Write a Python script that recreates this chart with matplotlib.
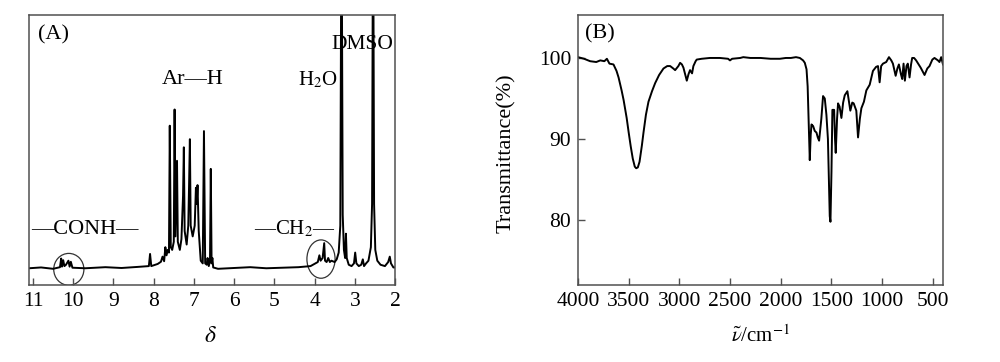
"""1H NMR (A) and FTIR (B) spectra, two panels side by side."""

import matplotlib
matplotlib.use("Agg")
import matplotlib.pyplot as plt
from matplotlib.patches import Ellipse

# ---- (A) 1H NMR, chemical shift (ppm) vs relative intensity (% of axes height)
nmr_shift = [
    11.10, 10.80, 10.50, 10.33, 10.30, 10.28, 10.25, 10.22, 10.18, 10.12,
    10.09, 10.06, 10.02, 9.70, 9.20, 8.80, 8.40, 8.12, 8.09, 8.06,
    7.90, 7.82, 7.78, 7.74, 7.71, 7.68, 7.65, 7.62, 7.60, 7.575,
    7.54, 7.50, 7.48, 7.46, 7.42, 7.40, 7.35, 7.31, 7.27, 7.25,
    7.23, 7.18, 7.14, 7.12, 7.10, 7.08, 7.03, 6.98, 6.95, 6.93,
    6.91, 6.88, 6.83, 6.78, 6.75, 6.72, 6.68, 6.66, 6.63, 6.60,
    6.58, 6.56, 6.54, 6.52, 6.40, 6.00, 5.60, 5.20, 4.80, 4.40,
    4.10, 3.98, 3.92, 3.88, 3.85, 3.80, 3.76, 3.74, 3.70, 3.66,
    3.62, 3.58, 3.50, 3.45, 3.40, 3.36, 3.33, 3.30, 3.27, 3.24,
    3.22, 3.20, 3.15, 3.08, 3.02, 2.99, 2.96, 2.90, 2.84, 2.80,
    2.77, 2.72, 2.66, 2.60, 2.57, 2.545, 2.52, 2.49, 2.44, 2.36,
    2.25, 2.17, 2.13, 2.10, 2.04, 2.00,
]
nmr_intensity = [
    6.2, 6.5, 6.0, 6.6, 9.8, 6.8, 9.2, 7.0, 7.5, 9.0,
    6.8, 8.6, 6.4, 6.2, 6.6, 6.3, 6.7, 7.0, 11.5, 7.0,
    7.8, 8.6, 10.5, 8.8, 14.0, 11.0, 13.0, 12.0, 59.0, 14.0,
    13.0, 16.0, 65.0, 18.0, 46.0, 16.0, 13.0, 17.0, 33.0, 51.0,
    20.0, 15.0, 22.0, 37.0, 54.0, 22.0, 18.0, 22.0, 36.0, 30.0,
    37.0, 20.0, 9.0, 8.0, 57.0, 8.0, 7.5, 10.0, 7.0, 9.0,
    43.0, 8.0, 10.0, 6.5, 6.0, 6.3, 6.6, 6.2, 6.4, 6.6,
    7.0, 8.0, 8.5, 11.0, 9.0, 10.0, 15.5, 9.0, 8.5, 10.0,
    8.5, 9.0, 8.5, 9.5, 12.0, 22.0, 150.0, 26.0, 13.0, 10.0,
    19.0, 10.0, 7.5, 7.0, 8.0, 12.0, 8.0, 7.0, 7.5, 9.5,
    7.0, 8.0, 9.0, 14.0, 30.0, 150.0, 30.0, 13.0, 9.0, 7.5,
    7.0, 8.5, 10.5, 8.0, 6.5, 6.5,
]
nmr_ticks = [11, 10, 9, 8, 7, 6, 5, 4, 3, 2]

# ---- (B) FTIR, wavenumber (cm-1) vs transmittance (%)
ir_wavenumber = [
    4000, 3940, 3880, 3820, 3780, 3740, 3715, 3690, 3650, 3620,
    3600, 3570, 3550, 3520, 3500, 3480, 3460, 3440, 3426, 3410,
    3393, 3370, 3354, 3330, 3305, 3270, 3239, 3200, 3157, 3120,
    3091, 3060, 3042, 3010, 2993, 2975, 2960, 2940, 2927, 2910,
    2895, 2875, 2862, 2840, 2829, 2780, 2700, 2600, 2520, 2501,
    2480, 2400, 2370, 2300, 2200, 2100, 2009, 1950, 1900, 1850,
    1812, 1780, 1763, 1746, 1735, 1725, 1714, 1705, 1697, 1681,
    1665, 1648, 1635, 1622, 1600, 1583, 1566, 1550, 1535, 1525,
    1517, 1510, 1500, 1491, 1474, 1465, 1458, 1445, 1435, 1420,
    1402, 1385, 1369, 1343, 1330, 1314, 1295, 1281, 1255, 1238,
    1220, 1205, 1180, 1156, 1123, 1091, 1060, 1041, 1025, 1010,
    992, 960, 933, 910, 894, 867, 850, 835, 815, 802,
    789, 776, 760, 747, 730, 715, 704, 685, 665, 620,
    582, 555, 533, 505, 484, 450, 435, 418, 400,
]
ir_transmittance = [
    100.1, 99.9, 99.6, 99.5, 99.7, 99.6, 99.9, 99.3, 99.2, 98.4,
    97.6, 96.0, 94.8, 92.6, 90.8, 89.1, 87.6, 86.6, 86.4, 86.5,
    87.2, 89.2, 90.8, 93.0, 94.6, 95.9, 96.9, 97.9, 98.7, 99.0,
    99.0, 98.7, 98.5, 99.0, 99.4, 99.2, 98.8, 97.8, 97.2, 98.0,
    98.5, 98.1, 99.0, 99.6, 99.8, 99.9, 100.0, 100.0, 99.9, 99.7,
    99.9, 100.0, 100.1, 100.0, 100.0, 99.9, 99.9, 100.0, 100.0, 100.1,
    100.0, 99.7, 99.4, 98.6, 96.5, 92.0, 87.4, 90.5, 91.8, 91.6,
    91.0, 90.8, 90.2, 89.8, 92.5, 95.3, 95.0, 93.0, 90.0, 85.0,
    80.5, 79.8, 86.0, 93.6, 93.6, 90.0, 88.3, 92.5, 94.4, 94.0,
    92.6, 94.5, 95.4, 95.9, 94.8, 93.5, 94.5, 94.4, 93.5, 90.2,
    92.5, 93.8, 94.6, 96.0, 96.7, 98.4, 98.9, 99.0, 97.0, 99.0,
    99.3, 99.5, 100.1, 99.7, 99.3, 97.8, 98.7, 99.2, 98.0, 97.4,
    99.3, 97.2, 99.0, 99.3, 97.6, 99.2, 100.0, 100.0, 99.7, 98.8,
    97.9, 98.7, 99.0, 99.8, 100.0, 99.7, 99.5, 100.1, 99.2,
]
ir_xticks = [4000, 3500, 3000, 2500, 2000, 1500, 1000, 500]
ir_yticks = [80, 90, 100]

assert len(nmr_shift) == len(nmr_intensity)
assert len(ir_wavenumber) == len(ir_transmittance)

plt.rcParams["font.family"] = ["Liberation Serif", "DejaVu Serif"]
plt.rcParams["mathtext.fontset"] = "stix"

FRAME = "#505050"
fig = plt.figure(figsize=(10, 3.62), dpi=100)
ax1 = fig.add_axes([0.029, 0.2127, 0.366, 0.7459])
ax2 = fig.add_axes([0.578, 0.2127, 0.365, 0.7459])

# ---- panel A
ax1.plot(nmr_shift, nmr_intensity, color="black", lw=1.4)
ax1.set_xlim(11.1, 2.0)
ax1.set_ylim(0, 100)
ax1.set_xticks(nmr_ticks)
ax1.set_yticks([])
ax1.tick_params(axis="x", direction="in", length=5, width=1, color=FRAME,
                labelsize=15.5, pad=5)
ax1.set_xlabel(r"$\delta$", fontsize=17)
ax1.xaxis.set_label_coords(0.495, -0.15)

ax1.text(0.025, 0.925, "(A)", transform=ax1.transAxes, fontsize=16,
         ha="left", va="center")
ax1.text(7.03, 76, "Ar\u2014H", fontsize=16, ha="center", va="center")
ax1.text(3.91, 76, "H$_2$O", fontsize=15, ha="center", va="center")
ax1.text(2.82, 89, "DMSO", fontsize=15.5, ha="center", va="center")
ax1.text(9.71, 20.5, "\u2014CONH\u2014", fontsize=16, ha="center",
         va="center")
ax1.text(4.48, 20.7, "\u2014CH$_2$\u2014", fontsize=15, ha="center",
         va="center")
ax1.add_patch(Ellipse((10.11, 5.8), 0.75, 11.8, fill=False,
                      edgecolor="#333333", lw=0.9))
ax1.add_patch(Ellipse((3.84, 9.6), 0.70, 14.2, fill=False,
                      edgecolor="#333333", lw=0.9))

# ---- panel B
ax2.plot(ir_wavenumber, ir_transmittance, color="black", lw=1.4)
ax2.set_xlim(4000, 400)
ax2.set_ylim(72, 105.3)
ax2.set_xticks(ir_xticks)
ax2.set_yticks(ir_yticks)
ax2.tick_params(axis="both", direction="in", length=5, width=1, color=FRAME,
                labelsize=15.5, pad=5)
ax2.set_ylabel("Transmittance(%)", fontsize=16)
ax2.yaxis.set_label_coords(-0.17, 0.49)
ax2.set_xlabel(r"$\tilde{\nu}$/cm$^{-1}$", fontsize=15)
ax2.xaxis.set_label_coords(0.5, -0.15)
ax2.text(0.02, 0.93, "(B)", transform=ax2.transAxes, fontsize=16,
         ha="left", va="center")

for ax in (ax1, ax2):
    for spine in ax.spines.values():
        spine.set_color(FRAME)
        spine.set_linewidth(1.1)

fig.savefig("out.png", dpi=100, facecolor="white")
